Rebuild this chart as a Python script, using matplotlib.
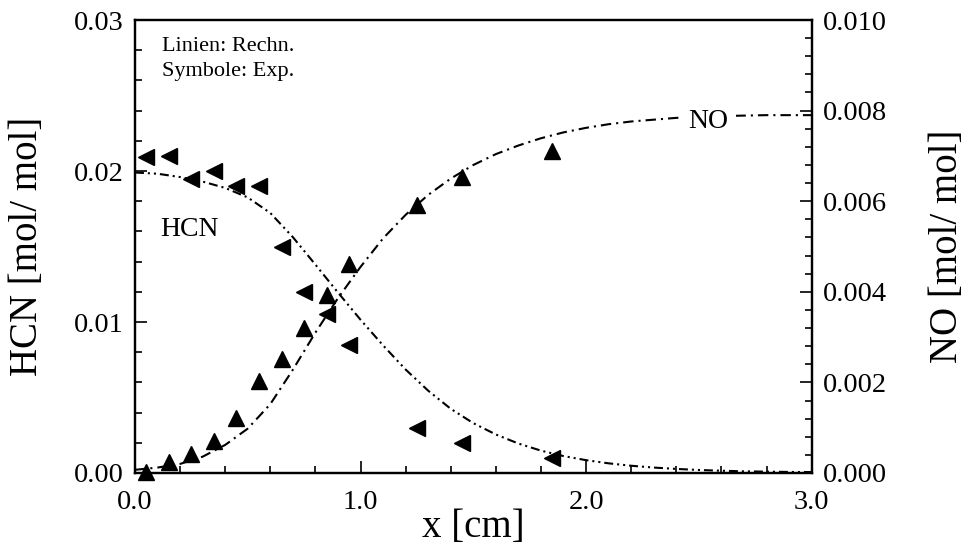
import matplotlib
matplotlib.use("Agg")
import matplotlib.pyplot as plt
from matplotlib.ticker import MultipleLocator, FormatStrFormatter

plt.rcParams['font.family'] = ['Liberation Serif', 'DejaVu Serif']

# computed profiles (lines)
x_calc = [0.0, 0.1, 0.2, 0.3, 0.4, 0.5, 0.6, 0.7, 0.8, 0.9, 1.0, 1.1, 1.2, 1.3,
          1.4, 1.5, 1.6, 1.7, 1.8, 1.9, 2.0, 2.1, 2.2, 2.3, 2.4, 2.5, 2.6, 2.7,
          2.8, 2.9, 3.0]
hcn_calc = [0.01990, 0.01982, 0.01960, 0.01930, 0.01888, 0.01825, 0.01722,
            0.01562, 0.01380, 0.01195, 0.01015, 0.00845, 0.00685, 0.00545,
            0.00425, 0.00330, 0.00255, 0.00195, 0.00148, 0.00112, 0.00085,
            0.00064, 0.00048, 0.00036, 0.00027, 0.00020, 0.00015, 0.00011,
            0.00009, 0.00007, 0.00006]
no_calc = [0.00007, 0.00012, 0.00020, 0.00036, 0.00062, 0.00098, 0.00152,
           0.00228, 0.00310, 0.00386, 0.00455, 0.00518, 0.00570, 0.00614,
           0.00650, 0.00680, 0.00704, 0.00723, 0.00739, 0.00752, 0.00762,
           0.00770, 0.00776, 0.00780, 0.00784, 0.00786, 0.00788, 0.00789,
           0.00790, 0.00790, 0.00790]

# measurements (symbols)
x_hcn_exp = [0.05, 0.15, 0.25, 0.35, 0.45, 0.55, 0.65, 0.75, 0.85, 0.95,
             1.25, 1.45, 1.85]
hcn_exp = [0.0209, 0.0210, 0.0195, 0.0200, 0.0190, 0.0190, 0.0150, 0.0120,
           0.0105, 0.0085, 0.0030, 0.0020, 0.0010]
x_no_exp = [0.05, 0.15, 0.25, 0.35, 0.45, 0.55, 0.65, 0.75, 0.85, 0.95,
            1.25, 1.45, 1.85]
no_exp = [0.00003, 0.00024, 0.00041, 0.00071, 0.00122, 0.00202, 0.00251,
          0.00320, 0.00392, 0.00461, 0.00592, 0.00653, 0.00711]

x_ticks = [0.0, 1.0, 2.0, 3.0]
hcn_ticks = [0.00, 0.01, 0.02, 0.03]
no_ticks = [0.000, 0.002, 0.004, 0.006, 0.008, 0.010]

fig = plt.figure(figsize=(9.64, 5.5), dpi=100)
ax = fig.add_axes([0.140, 0.140, 0.702, 0.8236])
ax2 = ax.twinx()

lw = 1.5
hcn_line, = ax.plot(x_calc, hcn_calc, color='black', lw=lw)
hcn_line.set_dashes([4.3, 1.9, 1.0, 1.9, 1.0, 1.9])
ax.plot(x_hcn_exp, hcn_exp, linestyle='none', marker='<', color='black',
        markersize=11, clip_on=False)

no_line, = ax2.plot(x_calc, no_calc, color='black', lw=lw)
no_line.set_dashes([5.0, 2.4, 1.0, 2.4])
ax2.plot(x_no_exp, no_exp, linestyle='none', marker='^', color='black',
         markersize=11, clip_on=False)

ax.set_xlim(0, 3.0)
ax.set_ylim(0, 0.03)
ax2.set_ylim(0, 0.010)

ax.set_xticks(x_ticks)
ax.set_yticks(hcn_ticks)
ax2.set_yticks(no_ticks)
ax.xaxis.set_major_formatter(FormatStrFormatter('%.1f'))
ax.yaxis.set_major_formatter(FormatStrFormatter('%.2f'))
ax2.yaxis.set_major_formatter(FormatStrFormatter('%.3f'))
ax.xaxis.set_minor_locator(MultipleLocator(0.2))
ax.yaxis.set_minor_locator(MultipleLocator(0.002))
ax2.yaxis.set_minor_locator(MultipleLocator(0.0004))

for a in (ax, ax2):
    a.tick_params(which='major', direction='in', length=8.5, width=1.2,
                  labelsize=20.5, pad=8)
    a.tick_params(which='minor', direction='in', length=5, width=1.2)
    for s in a.spines.values():
        s.set_linewidth(1.6)
ax.tick_params(axis='x', which='both', top=False, pad=12)
ax.tick_params(axis='y', which='both', right=False)
ax2.tick_params(axis='y', which='both', left=False)

ax.set_xlabel('x [cm]', fontsize=28, labelpad=-4)
ax.set_ylabel('HCN [mol/ mol]', fontsize=28, labelpad=20)
ax2.set_ylabel('NO [mol/ mol]', fontsize=28, labelpad=30)

ax.text(0.12, 0.0289, 'Linien: Rechn.\nSymbole: Exp.', fontsize=16,
        va='top', ha='left', linespacing=1.45)
ax.text(0.24, 0.01613, 'HCN', fontsize=20, ha='center', va='center')
ax2.text(2.54, 0.00777, 'NO', fontsize=20, ha='center', va='center',
         bbox=dict(facecolor='white', edgecolor='none', pad=6))

fig.savefig('out.png', dpi=100)
